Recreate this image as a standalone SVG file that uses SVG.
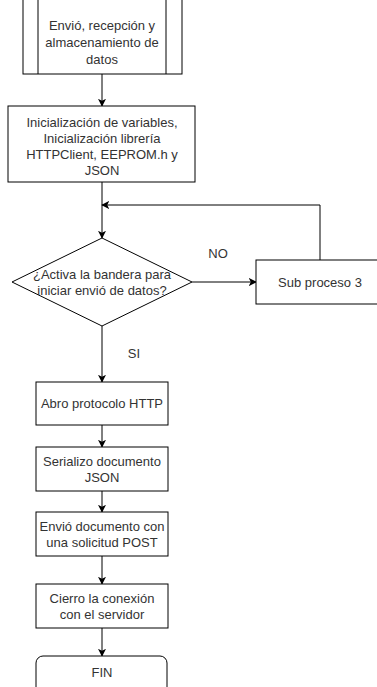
<svg xmlns="http://www.w3.org/2000/svg" width="377" height="687" viewBox="0 0 377 687">
<defs>
<style>
.s{fill:#fff;stroke:#000;stroke-width:1}
.c{fill:none;stroke:#000;stroke-width:1}
text{font-family:"Liberation Sans",Arial,sans-serif;font-size:13px;fill:#333;text-anchor:middle}
</style>
<marker id="a" viewBox="0 0 10 10" refX="9" refY="5" markerWidth="8" markerHeight="8" markerUnits="userSpaceOnUse" orient="auto">
<path d="M0,0 L10,5 L0,10 L2.5,5 Z" fill="#000"/>
</marker>
</defs>
<rect width="377" height="687" fill="#fff"/>
<g id="connectors">
<path class="c" d="M102,74 V106" marker-end="url(#a)"/>
<path class="c" d="M102,182 V238" marker-end="url(#a)"/>
<path class="c" d="M320,260 V205 H102" marker-end="url(#a)"/>
<path class="c" d="M192,282 H256" marker-end="url(#a)"/>
<path class="c" d="M102,326 V382" marker-end="url(#a)"/>
<path class="c" d="M102,425 V447" marker-end="url(#a)"/>
<path class="c" d="M102,491 V512" marker-end="url(#a)"/>
<path class="c" d="M102,556 V584" marker-end="url(#a)"/>
<path class="c" d="M102,628 V656" marker-end="url(#a)"/>
</g>
<g id="n1">
<rect class="s" x="23" y="-10" width="159" height="84"/>
<path class="c" d="M38,-10 V74 M166,-10 V74"/>
<text x="102" y="30">Envió, recepción y</text>
<text x="102" y="47">almacenamiento de</text>
<text x="102" y="64">datos</text>
</g>
<g id="n2">
<rect class="s" x="8" y="106" width="187" height="76"/>
<text x="102" y="127">Inicialización de variables,</text>
<text x="102" y="143">Inicialización librería</text>
<text x="102" y="159">HTTPClient, EEPROM.h y</text>
<text x="102" y="175">JSON</text>
</g>
<g id="n3">
<polygon class="s" points="12,282 102,238 192,282 102,326"/>
<text x="102" y="279">¿Activa la bandera para</text>
<text x="102" y="295">iniciar envió de datos?</text>
</g>
<g id="n4">
<rect class="s" x="256" y="260" width="134" height="44"/>
<text x="320" y="287">Sub proceso 3</text>
</g>
<text x="218" y="258">NO</text>
<text x="134" y="358">SI</text>
<g id="n5">
<rect class="s" x="36" y="382" width="132" height="43"/>
<text x="102" y="408">Abro protocolo HTTP</text>
</g>
<g id="n6">
<rect class="s" x="36" y="447" width="132" height="44"/>
<text x="102" y="466">Serializo documento</text>
<text x="102" y="482">JSON</text>
</g>
<g id="n7">
<rect class="s" x="36" y="512" width="132" height="44"/>
<text x="102" y="531">Envió documento con</text>
<text x="102" y="547">una solicitud POST</text>
</g>
<g id="n8">
<rect class="s" x="36" y="584" width="132" height="44"/>
<text x="102" y="603">Cierro la conexión</text>
<text x="102" y="619">con el servidor</text>
</g>
<g id="n9">
<rect class="s" x="36" y="656" width="131" height="50" rx="7"/>
<text x="102" y="677">FIN</text>
</g>
</svg>
